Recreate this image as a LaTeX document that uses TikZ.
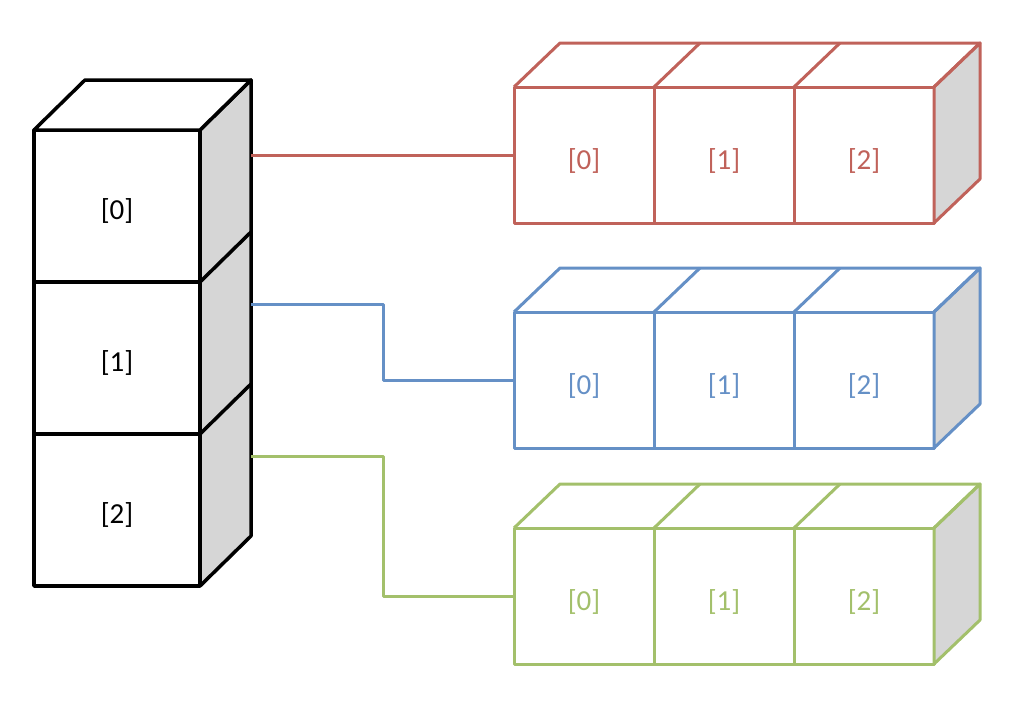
\documentclass[tikz,border=0pt]{standalone}
\usepackage{fontspec}
\setmainfont{Carlito}
\usetikzlibrary{calc}
\definecolor{cred}{HTML}{C0625A}
\definecolor{cblue}{HTML}{6590C6}
\definecolor{cgreen}{HTML}{A3C06B}
\definecolor{sidegray}{HTML}{D6D6D6}
\begin{document}
\begin{tikzpicture}[x=1pt,y=-1pt,line join=round,
  lcell/.style={draw=black, line width=3.5pt, rectangle, inner sep=0pt, outer sep=0pt,
    minimum width=166pt, minimum height=152pt, anchor=north west,
    text height=27.2pt, text depth=0.6pt,
    font=\fontsize{29}{33}\selectfont},
  rcell/.style={draw=#1, text=#1, line width=3pt, rectangle, inner sep=0pt, outer sep=0pt,
    minimum width=140pt, minimum height=136pt, anchor=north west,
    text height=29pt, text depth=0.6pt,
    font=\fontsize{29}{33}\selectfont},
  lface/.style={draw=black, line width=3.5pt},
  rface/.style={draw=#1, line width=3pt},
  link/.style={draw=#1, line width=3pt}]
\useasboundingbox (0,0) rectangle (1024,704);
% left stack
\node[lcell] (L0) at (34,130) {[0]};
\node[lcell] (L1) at (34,282) {[1]};
\node[lcell] (L2) at (34,434) {[2]};
\draw[lface, fill=sidegray] (L0.north east) -- ++(51,-50) -- ($(L2.south east)+(51,-50)$) -- (L2.south east) -- cycle;
\draw[lface, fill=white] (L0.north west) -- ++(51,-50) -- ($(L0.north east)+(51,-50)$) -- (L0.north east) -- cycle;
\draw[lface] (L1.north east) -- ++(51,-50);
\draw[lface] (L2.north east) -- ++(51,-50);
\coordinate (sa) at ($(L0.north east)+(51,25)$);
\coordinate (sb) at ($(L1.north east)+(51,22)$);
\coordinate (sc) at ($(L2.north east)+(51,22)$);
% right boxes
\foreach \p/\c/\y in {R/cred/87, B/cblue/312, G/cgreen/528}{
  \node[rcell=\c] (\p0) at (514,\y) {[0]};
  \node[rcell=\c] (\p1) at (654,\y) {[1]};
  \node[rcell=\c] (\p2) at (794,\y) {[2]};
  \draw[rface=\c, fill=sidegray] (\p2.north east) -- ++(46,-44) -- ($(\p2.south east)+(46,-44)$) -- (\p2.south east) -- cycle;
  \draw[rface=\c] (\p0.north west) -- ++(46,-44) -- ($(\p2.north east)+(46,-44)$) -- (\p2.north east);
  \draw[rface=\c] (\p1.north west) -- ++(46,-44);
  \draw[rface=\c] (\p2.north west) -- ++(46,-44);
}
% connectors
\draw[link=cred] (sa) -- (R0.west);
\draw[link=cblue] (sb) -- ++(132,0) |- (B0.west);
\draw[link=cgreen] (sc) -- ++(132,0) |- (G0.west);
\end{tikzpicture}
\end{document}
